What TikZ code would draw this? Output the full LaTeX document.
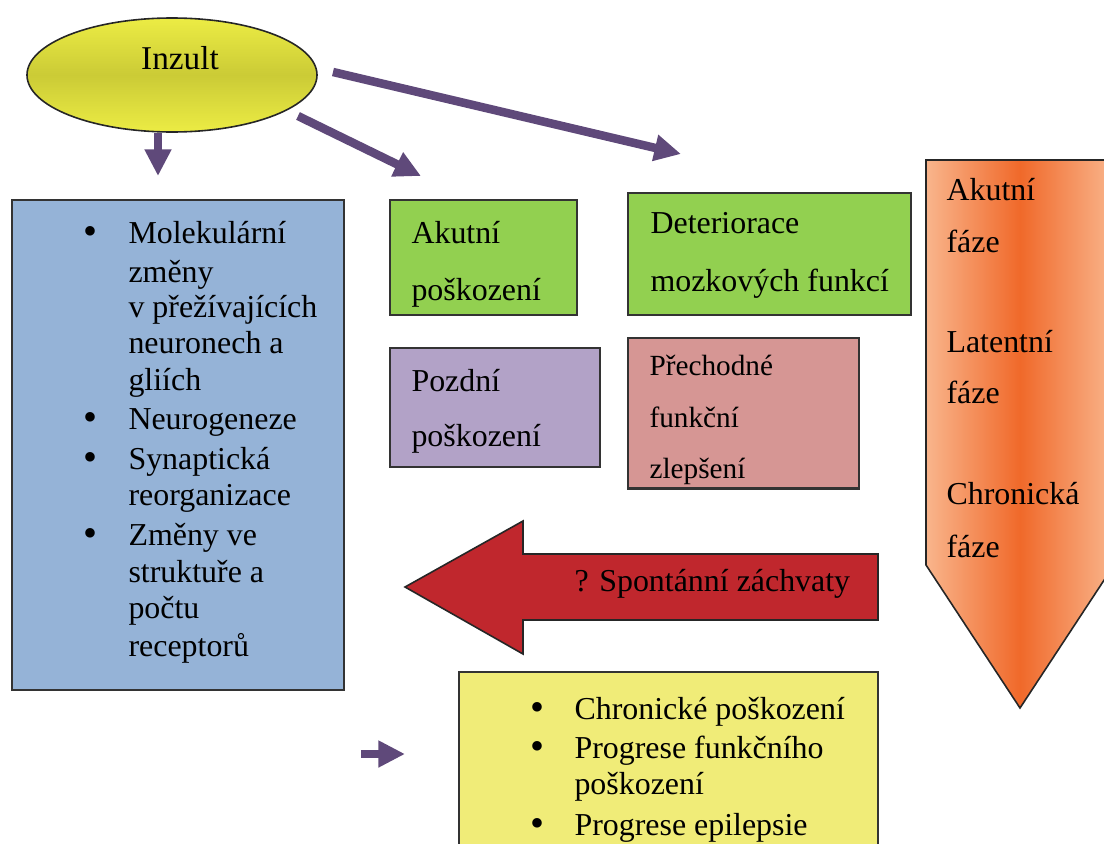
\documentclass[tikz,border=0pt]{standalone}
\usepackage{fontspec}
\setmainfont{Liberation Serif}
\usetikzlibrary{shapes.geometric,arrows.meta,fit}

\definecolor{flowpurple}{HTML}{5F497A}
\definecolor{ylwlight}{HTML}{ECEC44}
\definecolor{ylwdark}{HTML}{CBCB36}
\definecolor{bluefill}{HTML}{95B3D7}
\definecolor{greenfill}{HTML}{92D050}
\definecolor{lilacfill}{HTML}{B2A2C7}
\definecolor{pinkfill}{HTML}{D69694}
\definecolor{notefill}{HTML}{F0EC78}
\definecolor{redfill}{HTML}{C0272D}
\definecolor{orlight}{HTML}{F9B58C}
\definecolor{ordark}{HTML}{F0692A}

\tikzset{
  box/.style={draw=black!80, line width=0.6pt, inner sep=0pt},
  txt/.style={anchor=base west, inner sep=0pt, font=\fontsize{12}{14}\selectfont},
  smalltxt/.style={anchor=base west, inner sep=0pt, font=\fontsize{11}{13}\selectfont},
  dot/.style={anchor=base, inner sep=0pt, font=\fontsize{15}{16}\selectfont},
  flow/.style={draw=flowpurple, line width=3.2pt, -{Triangle[length=10pt,width=9.5pt]}},
}

\begin{document}
\begin{tikzpicture}[x=0.376pt, y=-0.376pt]
  \useasboundingbox (0,0) rectangle (1104,843);
  \clip (0,0) rectangle (1104,843);

  % insult
  \node[ellipse, draw=black!85, line width=0.6pt, minimum width=290*0.376pt,
        minimum height=114*0.376pt, top color=ylwlight, bottom color=ylwlight,
        middle color=ylwdark] (inzult) at (172,75) {};
  \node[anchor=base, inner sep=0pt, font=\fontsize{12.5}{14}\selectfont] (inzulttxt) at (180,69) {Inzult};

  % boxes
  \node[box, fill=bluefill, fit={(12,200) (344,690)}] (mol) {};
  \node[box, fill=greenfill, fit={(390,200) (577,315)}] (akut) {};
  \node[box, fill=greenfill, fit={(628,193) (911,315)}] (deter) {};
  \node[box, fill=lilacfill, fit={(390,348) (600,467)}] (pozd) {};
  \node[box, fill=pinkfill, fit={(628,338) (859,488)}] (prech) {};
  \node[box, fill=notefill, fit={(459,672) (878,860)}] (chron) {};

  % arrows from the insult
  \coordinate (a1s) at (158,133);
  \coordinate (a1e) at (158,176);
  \coordinate (a2s) at (298,116);
  \coordinate (a2e) at (421,176);
  \coordinate (a3s) at (333,72);
  \coordinate (a3e) at (681,154);
  \coordinate (a4s) at (361,754);
  \coordinate (a4e) at (405,754);
  \draw[flow] (a1s) -- (a1e);
  \draw[flow] (a2s) -- (a2e);
  \draw[flow] (a3s) -- (a3e);
  \draw[flow] (a4s) -- (a4e);

  % phases arrow
  \path[draw=black!85, line width=0.6pt, left color=orlight, right color=orlight,
        middle color=ordark]
    (926,160) -- (1114,160) -- (1114,565) -- (1020,708) -- (926,565) -- cycle;
  \foreach \y/\t in {200/Akutní, 252/fáze, 352/Latentní, 403/fáze, 504/Chronická, 557/fáze}{
    \node[txt] at (946,\y) {\t};
  }

  % seizures arrow
  \path[draw=black!85, line width=0.6pt, fill=redfill]
    (405,587) -- (523,521) -- (523,554) -- (878,554) -- (878,620) -- (523,620) -- (523,654) -- cycle;
  \node[txt] (spont) at (574,591) {? Spontánní záchvaty};

  % texts in the boxes
  \foreach \y/\t in {243/Molekulární, 282/změny, 317/v přežívajících, 353/neuronech a,
                     390/gliích, 429/Neurogeneze, 469/Synaptická, 505/reorganizace,
                     545/Změny ve, 582/struktuře a, 618/počtu, 656/receptorů}{
    \node[txt] at (128,\y) {\t};
  }
  \foreach \y in {243, 429, 469, 545}{
    \node[dot] at (90,\y+1) {•};
  }
  \node[txt] (akut1) at (411,243) {Akutní};
  \node[txt] (akut2) at (411,300) {poškození};
  \node[txt] (deter1) at (650,233) {Deteriorace};
  \node[txt] (deter2) at (650,291) {mozkových funkcí};
  \node[txt] (pozd1) at (411,391) {Pozdní};
  \node[txt] (pozd2) at (411,446) {poškození};
  \begin{scope}
    \clip (628,338) rectangle (859,487);
    \node[smalltxt] (prech1) at (649,375) {Přechodné};
    \node[smalltxt] (prech2) at (649,427) {funkční};
    \node[smalltxt] (prech3) at (649,478) {zlepšení};
  \end{scope}
  \draw[box, draw=black!80] (prech.south west) -- (prech.south east);
  \foreach \y/\t in {719/Chronické poškození, 758/Progrese funkčního, 794/poškození, 835/Progrese epilepsie}{
    \node[txt] at (574,\y) {\t};
  }
  \foreach \y in {719, 758, 835}{
    \node[dot] at (537,\y+1) {•};
  }
\end{tikzpicture}
\end{document}
